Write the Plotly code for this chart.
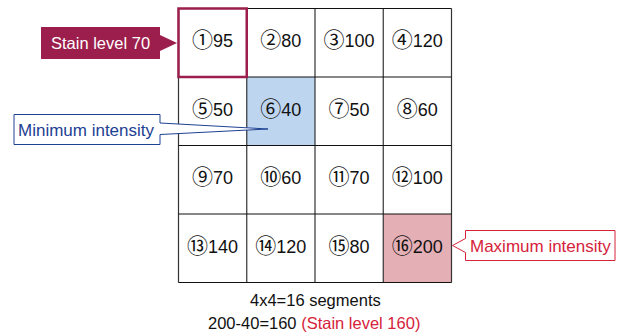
import plotly.graph_objects as go

# ---- data ----
cell_numbers = ["①", "②", "③", "④", "⑤", "⑥", "⑦", "⑧",
                "⑨", "⑩", "⑪", "⑫", "⑬", "⑭", "⑮", "⑯"]
cell_values = [95, 80, 100, 120,
               50, 40, 50, 60,
               70, 60, 70, 100,
               140, 120, 80, 200]
n_rows = 4
n_cols = 4
stain_cell = 0          # index of cell with stain level box
label_stain = "Stain level 70"
label_min = "Minimum intensity"
label_max = "Maximum intensity"
footer_line1 = "4x4=16 segments"
footer_line2a = "200-40=160 "
footer_line2b = "(Stain level 160)"

# ---- layout helpers (pixel -> cell units) ----
W, H = 624, 334
GX, GY, CW, CH = 178.5, 8.5, 68.25, 68.5
def X(px): return (px - GX) / CW
def Y(py): return (py - GY) / CH

MAROON = "#9c1e4c"
BLUE = "#1d4193"
RED = "#d6223a"
FONT = "Liberation Sans, Arial, Noto Sans CJK JP, sans-serif"

imin = cell_values.index(min(cell_values))
imax = cell_values.index(max(cell_values))

shapes = []
for i, v in enumerate(cell_values):
    r, c = divmod(i, n_cols)
    fill = "white"
    if i == imin:
        fill = "#bdd5ee"
    elif i == imax:
        fill = "#e4afb5"
    shapes.append(dict(type="rect", xref="x", yref="y", x0=c, x1=c + 1, y0=r, y1=r + 1,
                       fillcolor=fill, line=dict(width=0), layer="below"))
for k in range(n_cols + 1):
    shapes.append(dict(type="line", xref="x", yref="y", x0=k, x1=k, y0=0, y1=n_rows,
                       line=dict(color="#333333", width=1.2)))
for k in range(n_rows + 1):
    shapes.append(dict(type="line", xref="x", yref="y", x0=0, x1=n_cols, y0=k, y1=k,
                       line=dict(color="#111111", width=1)))
# stain-level highlight box
sr, sc = divmod(stain_cell, n_cols)
shapes.append(dict(type="rect", xref="x", yref="y", x0=sc, x1=sc + 1, y0=sr, y1=sr + 1,
                   line=dict(color=MAROON, width=2.5), fillcolor="rgba(0,0,0,0)"))

def path(pts):
    return "M " + " L ".join(f"{X(a):.4f},{Y(b):.4f}" for a, b in pts) + " Z"

# callout: stain level
shapes.append(dict(type="path", xref="x", yref="y",
                   path=path([(41, 27), (160, 27), (160, 35), (177, 43), (160, 51), (160, 59), (41, 59)]),
                   fillcolor=MAROON, line=dict(width=0)))
# callout: minimum
shapes.append(dict(type="path", xref="x", yref="y",
                   path=path([(14, 114.5), (160, 114.5), (160, 123), (268, 129), (160, 134.5), (160, 144.5), (14, 144.5)]),
                   fillcolor="white", line=dict(color=BLUE, width=1)))
# callout: maximum
shapes.append(dict(type="path", xref="x", yref="y",
                   path=path([(465.5, 230.5), (615, 230.5), (615, 260.5), (465.5, 260.5), (465.5, 252.5), (452.5, 245.5), (465.5, 238.5)]),
                   fillcolor="white", line=dict(color=RED, width=1)))

xs, ys, texts = [], [], []
for i, (n, v) in enumerate(zip(cell_numbers, cell_values)):
    r, c = divmod(i, n_cols)
    xs.append(c + 0.5)
    ys.append(r + 0.5)
    texts.append(f"<span style='font-size:21px'>{n}</span>{v}")

fig = go.Figure(go.Scatter(x=xs, y=ys, mode="text", text=texts,
                           textfont=dict(family=FONT, size=18, color="#111111"),
                           hoverinfo="skip", showlegend=False))

annotations = [
    dict(x=X(100.5), y=Y(43), text=label_stain, showarrow=False,
         font=dict(family=FONT, size=16.5, color="white")),
    dict(x=X(86), y=Y(130), text=label_min, showarrow=False,
         font=dict(family=FONT, size=17, color=BLUE)),
    dict(x=X(540), y=Y(246), text=label_max, showarrow=False,
         font=dict(family=FONT, size=17, color=RED)),
    dict(x=X(315), y=Y(300), text=footer_line1, showarrow=False,
         font=dict(family=FONT, size=16.5, color="#111111")),
    dict(x=X(314), y=Y(323), text=f"{footer_line2a}<span style='color:{RED}'>{footer_line2b}</span>",
         showarrow=False, font=dict(family=FONT, size=16.5, color="#111111")),
]

fig.update_layout(
    width=W, height=H, margin=dict(l=0, r=0, t=0, b=0),
    paper_bgcolor="white", plot_bgcolor="white",
    xaxis=dict(range=[X(0), X(W)], visible=False, fixedrange=True),
    yaxis=dict(range=[Y(H), Y(0)], visible=False, fixedrange=True),
    shapes=shapes, annotations=annotations,
)
fig.write_html("out.html", config={"displayModeBar": False},
               post_script="document.body.style.margin='0';document.body.style.overflow='hidden';")
